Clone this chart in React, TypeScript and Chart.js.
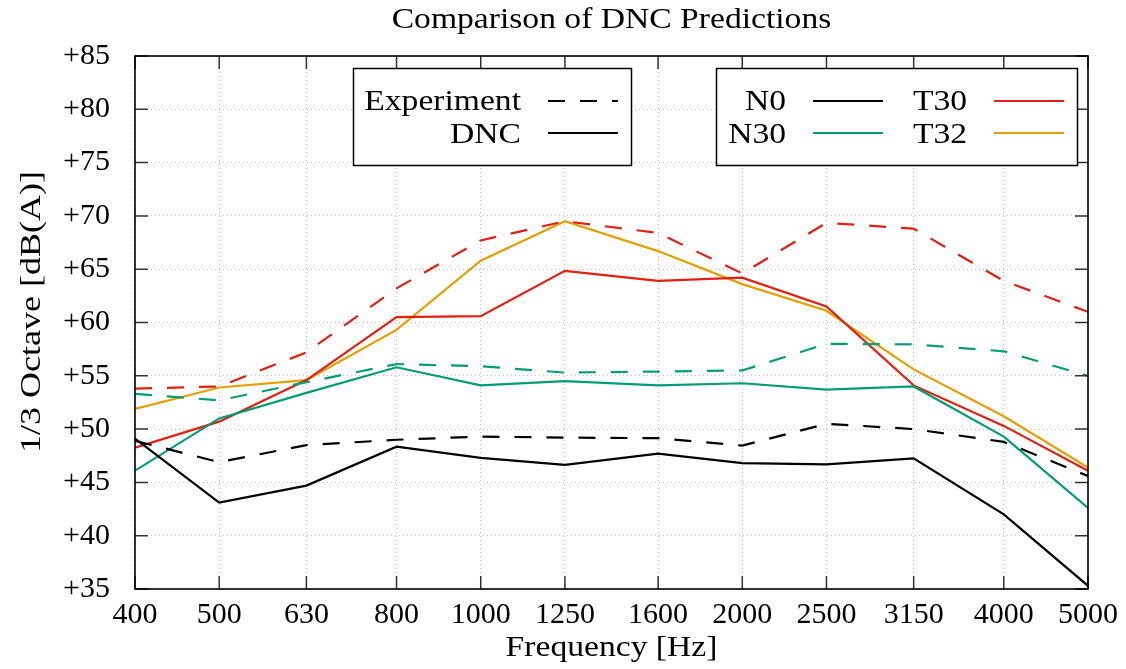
import { useEffect, useRef } from 'react';
import { Chart, registerables } from 'chart.js';

Chart.register(...registerables);

const freqs = [400, 500, 630, 800, 1000, 1250, 1600, 2000, 2500, 3150, 4000, 5000];
const yTicks = [35, 40, 45, 50, 55, 60, 65, 70, 75, 80, 85];

const n0Exp = [48.9, 46.9, 48.5, 49.0, 49.3, 49.2, 49.15, 48.45, 50.5, 50.0, 48.8, 45.6];
const n0Dnc = [49.1, 43.1, 44.7, 48.35, 47.3, 46.65, 47.7, 46.8, 46.7, 47.25, 42.0, 35.3];
const n30Exp = [53.3, 52.7, 54.4, 56.1, 55.9, 55.3, 55.4, 55.5, 58.0, 57.95, 57.3, 55.0];
const n30Dnc = [46.1, 51.0, 53.4, 55.8, 54.1, 54.5, 54.1, 54.3, 53.7, 54.0, 49.3, 42.6];
const t30Exp = [53.8, 54.0, 57.2, 63.2, 67.7, 69.5, 68.4, 64.6, 69.35, 68.8, 63.9, 61.0];
const t30Dnc = [48.25, 50.7, 54.6, 60.5, 60.6, 64.85, 63.9, 64.2, 61.5, 54.1, 50.3, 46.1];
const t32Dnc = [51.9, 53.9, 54.6, 59.3, 65.8, 69.5, 66.7, 63.6, 61.1, 55.6, 51.2, 46.4];

const BLACK = '#000000';
const GREEN = '#009e73';
const RED = '#e51e10';
const ORANGE = '#e69f00';
const DASH = [17, 15];
const FONT = "'Liberation Serif', 'Times New Roman', serif";
const HS = 1.12;

function txt(ctx: CanvasRenderingContext2D, s: string, x: number, y: number, align: CanvasTextAlign, hs: number = HS) {
  ctx.save();
  ctx.translate(x, y);
  ctx.scale(hs, 1);
  ctx.textAlign = align;
  ctx.textBaseline = 'alphabetic';
  ctx.fillText(s, 0, 0);
  ctx.restore();
}

function sample(ctx: CanvasRenderingContext2D, x0: number, x1: number, y: number, color: string, dashed: boolean) {
  ctx.save();
  ctx.strokeStyle = color;
  ctx.lineWidth = 2.2;
  ctx.setLineDash(dashed ? DASH : []);
  ctx.beginPath();
  ctx.moveTo(x0, y);
  ctx.lineTo(x1, y);
  ctx.stroke();
  ctx.restore();
}

const overlay = {
  id: 'overlay',
  afterDatasetsDraw(chart: any) {
    const { ctx, chartArea: a, scales } = chart;
    const x = scales.x;
    const y = scales.y;
    ctx.save();
    ctx.strokeStyle = '#333';
    ctx.lineWidth = 1.5;
    ctx.beginPath();
    const TL = 13;
    for (const f of freqs) {
      const px = x.getPixelForValue(f);
      ctx.moveTo(px, a.bottom);
      ctx.lineTo(px, a.bottom - TL);
      ctx.moveTo(px, a.top);
      ctx.lineTo(px, a.top + TL);
    }
    for (const v of yTicks) {
      const py = y.getPixelForValue(v);
      ctx.moveTo(a.left, py);
      ctx.lineTo(a.left + TL, py);
      ctx.moveTo(a.right, py);
      ctx.lineTo(a.right - TL, py);
    }
    ctx.stroke();
    ctx.strokeStyle = '#000';
    ctx.lineWidth = 1.6;
    ctx.strokeRect(a.left, a.top, a.right - a.left, a.bottom - a.top);
    ctx.restore();
  },
  afterDraw(chart: any) {
    const { ctx, chartArea: a } = chart;
    ctx.save();
    ctx.fillStyle = '#000';
    ctx.font = `30px ${FONT}`;
    const cx = (a.left + a.right) / 2;
    txt(ctx, 'Comparison of DNC Predictions', cx, 28, 'center');
    txt(ctx, 'Frequency [Hz]', cx, 656, 'center');
    ctx.save();
    ctx.translate(40, 312);
    ctx.rotate(-Math.PI / 2);
    txt(ctx, '1/3 Octave [dB(A)]', 0, 0, 'center', 1.2);
    ctx.restore();

    // legend boxes
    ctx.lineWidth = 1.5;
    ctx.strokeStyle = '#000';
    ctx.fillStyle = '#fff';
    ctx.fillRect(353.5, 68.5, 278, 97);
    ctx.strokeRect(353.5, 68.5, 278, 97);
    ctx.fillRect(716.5, 68.5, 361, 97);
    ctx.strokeRect(716.5, 68.5, 361, 97);

    ctx.fillStyle = '#000';
    const r1 = 110;
    const r2 = 143;
    const l1 = 101;
    const l2 = 133;
    txt(ctx, 'Experiment', 521, r1, 'right');
    txt(ctx, 'DNC', 521, r2, 'right');
    sample(ctx, 548, 618, l1, BLACK, true);
    sample(ctx, 548, 618, l2, BLACK, false);

    txt(ctx, 'N0', 786, r1, 'right');
    txt(ctx, 'N30', 786, r2, 'right');
    txt(ctx, 'T30', 967, r1, 'right');
    txt(ctx, 'T32', 967, r2, 'right');
    sample(ctx, 813, 883, l1, BLACK, false);
    sample(ctx, 813, 883, l2, GREEN, false);
    sample(ctx, 994, 1064, l1, RED, false);
    sample(ctx, 994, 1064, l2, ORANGE, false);
    ctx.restore();
  },
};

function series(vals: number[], color: string, dashed: boolean, label: string) {
  return {
    label,
    data: freqs.map((f, i) => ({ x: f, y: vals[i] })),
    borderColor: color,
    backgroundColor: color,
    borderWidth: 2.2,
    borderDash: dashed ? DASH : [],
    pointRadius: 0,
    tension: 0,
    fill: false,
  };
}

export default function App() {
  const ref = useRef<HTMLCanvasElement | null>(null);
  useEffect(() => {
    if (!ref.current) return;
    const chart = new Chart(ref.current, {
      type: 'line',
      data: {
        datasets: [
          series(n0Exp, BLACK, true, 'N0 Experiment'),
          series(n30Exp, GREEN, true, 'N30 Experiment'),
          series(t30Exp, RED, true, 'T30 Experiment'),
          series(n0Dnc, BLACK, false, 'N0 DNC'),
          series(n30Dnc, GREEN, false, 'N30 DNC'),
          series(t30Dnc, RED, false, 'T30 DNC'),
          series(t32Dnc, ORANGE, false, 'T32 DNC'),
        ] as any,
      },
      options: {
        responsive: false,
        animation: false,
        devicePixelRatio: 1,
        layout: { padding: { top: 56, right: 36, left: 0, bottom: 0 } },
        plugins: {
          legend: { display: false },
          title: { display: false },
          tooltip: { enabled: false },
        },
        scales: {
          x: {
            type: 'logarithmic',
            min: 400,
            max: 5000,
            afterBuildTicks: (s: any) => {
              s.ticks = freqs.map((v) => ({ value: v }));
            },
            afterFit: (s: any) => {
              s.height = 80;
            },
            grid: { color: '#c4c4c4', lineWidth: 1, drawTicks: false },
            border: { display: false, dash: [1, 3] },
            ticks: {
              autoSkip: false,
              maxRotation: 0,
              minRotation: 0,
              padding: 8,
              color: '#000',
              font: { family: FONT, size: 30 },
              callback: (v: any) => String(v),
            },
          },
          y: {
            type: 'linear',
            min: 35,
            max: 85,
            afterBuildTicks: (s: any) => {
              s.ticks = yTicks.map((v) => ({ value: v }));
            },
            afterFit: (s: any) => {
              s.width = 135;
            },
            grid: { color: '#c4c4c4', lineWidth: 1, drawTicks: false },
            border: { display: false, dash: [1, 3] },
            ticks: {
              padding: 25,
              color: '#000',
              font: { family: FONT, size: 30 },
              callback: (v: any) => '+' + v,
            },
          },
        },
      } as any,
      plugins: [overlay],
    });
    return () => chart.destroy();
  }, []);
  return (
    <div style={{ position: 'fixed', left: 0, top: 0, width: 1126, height: 669, background: '#fff' }}>
      <canvas ref={ref} width={1126} height={669} style={{ display: 'block', width: 1126, height: 669 }} />
    </div>
  );
}
